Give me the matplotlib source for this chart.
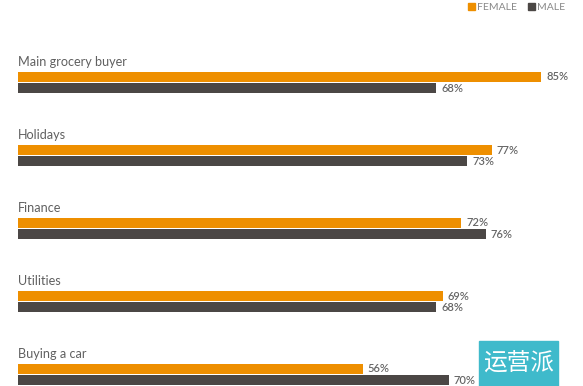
import matplotlib
matplotlib.use("Agg")
import matplotlib.pyplot as plt
from matplotlib.patches import Rectangle

categories = ["Main grocery buyer", "Holidays", "Finance", "Utilities", "Buying a car"]
female = [85, 77, 72, 69, 56]
male = [68, 73, 76, 68, 70]
series_names = ["FEMALE", "MALE"]

ORANGE = "#EE8F00"
DARK = "#4B4745"
TXT = "#606060"

W, H = 583, 386
fig = plt.figure(figsize=(W / 100, H / 100), dpi=100)
ax = fig.add_axes([0, 0, 1, 1])
px = 6.153  # pixels per percent
x0 = 18
ax.set_xlim(-x0 / px, (W - x0) / px)
sp = 73.0
c0 = 82.5
ax.set_ylim((H - c0) / sp, -c0 / sp)
ax.axis("off")

off = 5.6 / sp
h = 10.6 / sp
fam = ["Lato", "DejaVu Sans"]
for i, cat in enumerate(categories):
    ax.barh(i - off, female[i], height=h, color=ORANGE, linewidth=0)
    ax.barh(i + off, male[i], height=h, color=DARK, linewidth=0)
    ax.text(0, i - 16.5 / sp, cat, fontsize=9.1, color=TXT, family=fam,
            va="baseline", ha="left")
    ax.text(female[i] + 5 / px, i - off + 3.6 / sp, f"{female[i]}%", fontsize=8,
            color="#666666", fontweight="semibold", family=fam, va="baseline", ha="left")
    ax.text(male[i] + 5 / px, i + off + 4.0 / sp, f"{male[i]}%", fontsize=8,
            color="#666666", fontweight="semibold", family=fam, va="baseline", ha="left")

# legend
for (name, col, lx) in [(series_names[0], ORANGE, 468), (series_names[1], DARK, 528)]:
    fig.patches.append(Rectangle((lx / W, 1 - 9.5 / H), 6.5 / W, 7 / H,
                                 transform=fig.transFigure, color=col, figure=fig))
    fig.text((lx + 9.5) / W, 1 - 9.5 / H, name, fontsize=7.5, color="#888888",
             family=fam, va="baseline", ha="left")

# watermark
fig.patches.append(Rectangle((479 / W, 0), 79 / W, 45 / H, transform=fig.transFigure,
                             color="#3FBACB", figure=fig))
fig.text(518.5 / W, 22 / H, "运营派", fontsize=17, color="white",
         family=["Noto Sans CJK SC", "DejaVu Sans"], va="center", ha="center")

fig.savefig("out.png", dpi=100)
